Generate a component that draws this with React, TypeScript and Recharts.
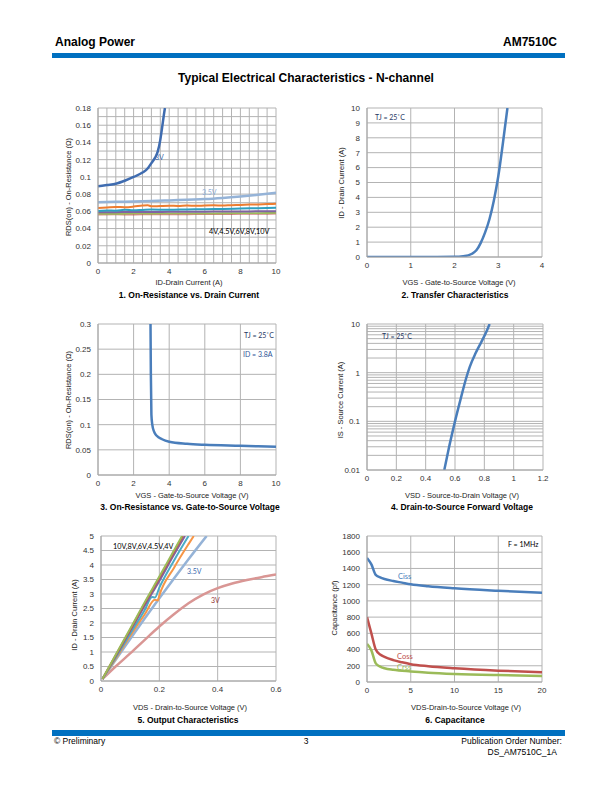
import React from "react";
import { LineChart, Line, XAxis, YAxis, CartesianGrid } from "recharts";

type Pt = [number, number];

const FONT = "'Liberation Sans', Arial, sans-serif";
const NOTE_FONT = "Lato, 'Open Sans', sans-serif";

// 1. On-Resistance vs. Drain Current
const c1XTicks = [0, 2, 4, 6, 8, 10];
const c1YTicks = [0, 0.02, 0.04, 0.06, 0.08, 0.1, 0.12, 0.14, 0.16, 0.18];
const rds3V: Pt[] = [[0, 0.089], [0.5, 0.0905], [1, 0.092], [1.5, 0.0955], [2, 0.1], [2.5, 0.105], [2.8, 0.11], [3, 0.116], [3.2, 0.122], [3.35, 0.129], [3.5, 0.143], [3.6, 0.157], [3.7, 0.172], [3.76, 0.18]];
const rds35V: Pt[] = [[0, 0.0705], [1, 0.071], [2, 0.0715], [3, 0.072], [4, 0.0727], [5, 0.0735], [6, 0.0742], [7, 0.0755], [8, 0.0772], [9, 0.0792], [10, 0.0815]];
const rds4V: Pt[] = [[0, 0.064], [0.5, 0.0645], [1, 0.065], [1.5, 0.0648], [2, 0.0655], [2.5, 0.0668], [2.8, 0.0672], [3, 0.0658], [3.5, 0.0662], [4, 0.0665], [4.5, 0.0662], [5, 0.0667], [5.5, 0.0664], [6, 0.0668], [6.5, 0.067], [7, 0.0667], [7.5, 0.0672], [8, 0.0674], [8.5, 0.0678], [9, 0.068], [9.5, 0.0684], [10, 0.0687]];
const rds45V: Pt[] = [[0, 0.0605], [0.5, 0.061], [1, 0.0608], [1.5, 0.0618], [2, 0.0612], [2.5, 0.0616], [3, 0.062], [4, 0.0618], [5, 0.0622], [6, 0.0625], [7, 0.0628], [8, 0.0632], [9, 0.0637], [10, 0.0642]];
const rds6V: Pt[] = [[0, 0.0588], [1, 0.059], [2, 0.0592], [3, 0.0591], [4, 0.0594], [5, 0.0595], [6, 0.0596], [7, 0.0598], [8, 0.0599], [9, 0.06], [10, 0.0602]];
const rds8V: Pt[] = [[0, 0.0574], [1, 0.0572], [2, 0.0576], [3, 0.0575], [4, 0.0576], [5, 0.0577], [6, 0.0577], [7, 0.0578], [8, 0.0579], [9, 0.058], [10, 0.0581]];
const rds10V: Pt[] = [[0, 0.0562], [1, 0.0564], [2, 0.0563], [3, 0.0565], [4, 0.0564], [5, 0.0566], [6, 0.0567], [7, 0.0568], [8, 0.057], [9, 0.0571], [10, 0.0573]];

// 2. Transfer Characteristics
const c2XTicks = [0, 1, 2, 3, 4];
const c2YTicks = [0, 1, 2, 3, 4, 5, 6, 7, 8, 9, 10];
const transfer: Pt[] = [[0, 0], [1, 0], [2, 0.01], [2.2, 0.05], [2.4, 0.22], [2.5, 0.45], [2.6, 0.95], [2.7, 1.65], [2.8, 2.55], [2.9, 3.8], [3.0, 5.4], [3.1, 7.5], [3.21, 10]];

// 3. On-Resistance vs. Gate-to-Source Voltage
const c3XTicks = [0, 2, 4, 6, 8, 10];
const c3YTicks = [0, 0.05, 0.1, 0.15, 0.2, 0.25, 0.3];
const rdsVgs: Pt[] = [[2.95, 0.3], [2.97, 0.2], [3.0, 0.12], [3.05, 0.1], [3.15, 0.086], [3.3, 0.078], [3.6, 0.071], [4, 0.066], [5, 0.062], [6, 0.06], [8, 0.058], [10, 0.056]];

// 4. Drain-to-Source Forward Voltage
const c4XTicks = [0, 0.2, 0.4, 0.6, 0.8, 1, 1.2];
const c4YTicks = [0.01, 0.1, 1, 10];
const diode: Pt[] = [[0.527, 0.01], [0.56, 0.03], [0.6, 0.1], [0.64, 0.3], [0.675, 0.75], [0.7, 1.3], [0.74, 2.5], [0.78, 4.3], [0.81, 6.5], [0.836, 10]];

// 5. Output Characteristics
const c5XTicks = [0, 0.2, 0.4, 0.6];
const c5YTicks = [0, 0.5, 1, 1.5, 2, 2.5, 3, 3.5, 4, 4.5, 5];
const out10V: Pt[] = [[0.005, 0.07], [0.05, 0.9], [0.1, 1.8], [0.15, 2.72], [0.2, 3.6], [0.25, 4.5], [0.278, 5]];
const out8V: Pt[] = [[0.005, 0.07], [0.05, 0.88], [0.1, 1.77], [0.15, 2.68], [0.2, 3.55], [0.25, 4.45], [0.281, 5]];
const out6V: Pt[] = [[0.005, 0.07], [0.05, 0.85], [0.1, 1.72], [0.15, 2.6], [0.2, 3.45], [0.25, 4.35], [0.288, 5]];
const out45V: Pt[] = [[0.005, 0.07], [0.05, 0.8], [0.1, 1.63], [0.15, 2.45], [0.175, 2.9], [0.185, 2.88], [0.2, 3.22], [0.25, 4.15], [0.3, 5]];
const out4V: Pt[] = [[0.005, 0.07], [0.05, 0.76], [0.1, 1.55], [0.15, 2.3], [0.185, 2.8], [0.195, 2.78], [0.2, 2.95], [0.25, 3.9], [0.3, 4.72], [0.318, 5]];
const out35V: Pt[] = [[0.005, 0.07], [0.1, 1.45], [0.2, 2.85], [0.3, 4.2], [0.362, 5]];
const out3V: Pt[] = [[0.005, 0.07], [0.05, 0.5], [0.1, 0.95], [0.15, 1.42], [0.2, 1.88], [0.25, 2.3], [0.3, 2.68], [0.35, 2.98], [0.4, 3.2], [0.45, 3.36], [0.5, 3.48], [0.55, 3.58], [0.6, 3.67]];

// 6. Capacitance
const c6XTicks = [0, 5, 10, 15, 20];
const c6YTicks = [0, 200, 400, 600, 800, 1000, 1200, 1400, 1600, 1800];
const ciss: Pt[] = [[0, 1530], [0.5, 1450], [1, 1320], [1.5, 1290], [2, 1270], [3, 1245], [4, 1225], [5, 1205], [7, 1180], [10, 1155], [15, 1125], [20, 1100]];
const coss: Pt[] = [[0, 800], [0.5, 600], [1, 400], [1.5, 340], [2, 310], [3, 270], [4, 243], [5, 220], [7, 195], [10, 170], [15, 140], [20, 120]];
const crss: Pt[] = [[0, 470], [0.5, 390], [1, 230], [1.5, 190], [2, 170], [3, 150], [5, 130], [7, 115], [10, 100], [15, 85], [20, 75]];

const rows = (pts: Pt[]) => pts.map(([x, y]) => ({ x, y }));
const steps = (from: number, to: number, step: number) => {
  const out: number[] = [];
  for (let v = from; v <= to + step / 1000; v += step) out.push(+v.toFixed(6));
  return out;
};
const logGrid = [0.01, 0.1, 1].flatMap((d) => [1, 2, 3, 4, 5, 6, 7, 8, 9].map((m) => +(m * d).toFixed(4))).concat([10]);

type Series = { pts: Pt[]; color: string; width?: number; opacity?: number };
type PanelCfg = {
  box: [number, number, number, number];
  xDomain: [number, number];
  yDomain: [number, number];
  xTicks: number[];
  yTicks: number[];
  xGrid: number[];
  yGrid: number[];
  logY?: boolean;
  series: Series[];
};

const ML = 45;
const MT = 6;
const MR = 12;
const XH = 18;
const tickStyle = { fontSize: 8, fill: "#333", fontFamily: FONT };

function Panel({ cfg }: { cfg: PanelCfg }) {
  const [x0, y0, x1, y1] = cfg.box;
  const w = x1 - x0 + ML + MR;
  const h = y1 - y0 + MT + XH;
  return (
    <div style={{ position: "absolute", left: x0 - ML, top: y0 - MT }}>
      <LineChart width={w} height={h} margin={{ top: MT, right: MR, bottom: 0, left: 0 }}>
        <CartesianGrid stroke="#b3b3b3" verticalValues={cfg.xGrid} horizontalValues={cfg.yGrid} />
        <XAxis
          dataKey="x"
          type="number"
          domain={cfg.xDomain}
          ticks={cfg.xTicks}
          interval={0}
          allowDataOverflow
          tickLine={false}
          tickSize={0}
          tickMargin={5}
          height={XH}
          stroke="#a6a6a6"
          tick={tickStyle}
        />
        <YAxis
          type="number"
          scale={cfg.logY ? "log" : "auto"}
          domain={cfg.yDomain}
          ticks={cfg.yTicks}
          interval={0}
          allowDataOverflow
          tickLine={false}
          tickSize={0}
          tickMargin={7}
          width={ML}
          stroke="#a6a6a6"
          tick={tickStyle}
        />
        {cfg.series.map((s, i) => (
          <Line
            key={i}
            data={rows(s.pts)}
            dataKey="y"
            type="monotone"
            stroke={s.color}
            strokeWidth={s.width ?? 2}
            strokeOpacity={s.opacity ?? 1}
            dot={false}
            isAnimationActive={false}
          />
        ))}
      </LineChart>
    </div>
  );
}

const panels: PanelCfg[] = [
  {
    box: [98, 108, 276, 263],
    xDomain: [0, 10], yDomain: [0, 0.18], xTicks: c1XTicks, yTicks: c1YTicks,
    xGrid: steps(0, 10, 0.5), yGrid: steps(0, 0.18, 0.01),
    series: [
      { pts: rds10V, color: "#C0504D", width: 1.8, opacity: 0.7 },
      { pts: rds8V, color: "#9BBB59", width: 1.8 },
      { pts: rds6V, color: "#8064A2", width: 2 },
      { pts: rds45V, color: "#2E9FC0", width: 2 },
      { pts: rds4V, color: "#ED7D31", width: 2 },
      { pts: rds35V, color: "#95B3D7", width: 2.5 },
      { pts: rds3V, color: "#3F6CB0", width: 2.5 },
    ],
  },
  {
    box: [367, 108, 542, 257],
    xDomain: [0, 4], yDomain: [0, 10], xTicks: c2XTicks, yTicks: c2YTicks,
    xGrid: steps(0, 4, 1), yGrid: steps(0, 10, 1),
    series: [{ pts: transfer, color: "#4A7EBB", width: 2.5 }],
  },
  {
    box: [98, 324, 276, 475],
    xDomain: [0, 10], yDomain: [0, 0.3], xTicks: c3XTicks, yTicks: c3YTicks,
    xGrid: steps(0, 10, 2), yGrid: steps(0, 0.3, 0.05),
    series: [{ pts: rdsVgs, color: "#4A7EBB", width: 2.5 }],
  },
  {
    box: [367, 324, 543, 470],
    xDomain: [0, 1.2], yDomain: [0.01, 10], xTicks: c4XTicks, yTicks: c4YTicks,
    xGrid: steps(0, 1.2, 0.2), yGrid: logGrid, logY: true,
    series: [{ pts: diode, color: "#4A7EBB", width: 2.5 }],
  },
  {
    box: [101, 536, 276, 681],
    xDomain: [0, 0.6], yDomain: [0, 5], xTicks: c5XTicks, yTicks: c5YTicks,
    xGrid: steps(0, 0.6, 0.2), yGrid: steps(0, 5, 0.5),
    series: [
      { pts: out3V, color: "#D99694", width: 2.5 },
      { pts: out35V, color: "#95B3D7", width: 2.5 },
      { pts: out4V, color: "#F79646", width: 2 },
      { pts: out45V, color: "#4BACC6", width: 2 },
      { pts: out6V, color: "#8064A2", width: 2 },
      { pts: out8V, color: "#C0504D", width: 2 },
      { pts: out10V, color: "#9BBB59", width: 2 },
    ],
  },
  {
    box: [367, 536, 542, 682],
    xDomain: [0, 20], yDomain: [0, 1800], xTicks: c6XTicks, yTicks: c6YTicks,
    xGrid: steps(0, 20, 5), yGrid: steps(0, 1800, 200),
    series: [
      { pts: crss, color: "#9BBB59", width: 2.5 },
      { pts: coss, color: "#C0504D", width: 2.5 },
      { pts: ciss, color: "#4A7EBB", width: 2.5 },
    ],
  },
];

type TxtProps = {
  x: number; y: number; children: React.ReactNode; size?: number; bold?: boolean;
  color?: string; align?: "left" | "center" | "right"; font?: string;
};
function Txt({ x, y, children, size = 7.5, bold, color = "#222", align = "left", font = FONT }: TxtProps) {
  const tx = align === "center" ? "-50%" : align === "right" ? "-100%" : "0";
  return (
    <div
      style={{
        position: "absolute", left: x, top: y, whiteSpace: "nowrap", fontFamily: font, fontSize: size,
        fontWeight: bold ? 700 : 400, color, lineHeight: 1, transform: `translate(${tx}, -50%)`,
      }}
    >
      {children}
    </div>
  );
}

function YTitle({ x, y, children }: { x: number; y: number; children: React.ReactNode }) {
  return (
    <div
      style={{
        position: "absolute", left: x, top: y, whiteSpace: "nowrap", fontFamily: FONT, fontSize: 7.5,
        color: "#222", lineHeight: 1, transform: "translate(-50%, -50%) rotate(-90deg)",
      }}
    >
      {children}
    </div>
  );
}

export default function App() {
  return (
    <div style={{ position: "absolute", left: 0, top: 0, width: 612, height: 792, background: "#fff", fontFamily: FONT }}>
      <Txt x={55} y={42} size={12} bold color="#000">Analog Power</Txt>
      <Txt x={557} y={42} size={12} bold color="#000" align="right">AM7510C</Txt>
      <div style={{ position: "absolute", left: 52, top: 53, width: 513, height: 4.5, background: "#0070C0" }} />
      <Txt x={306} y={78} size={12} bold color="#000" align="center">Typical Electrical Characteristics - N-channel</Txt>

      {panels.map((p, i) => <Panel key={i} cfg={p} />)}

      {/* chart 1 */}
      <YTitle x={69} y={187}>RDS(on) - On-Resistance (Ω)</YTitle>
      <Txt x={189} y={283} align="center">ID-Drain Current (A)</Txt>
      <Txt x={189} y={295} size={8.5} bold align="center" color="#000">1. On-Resistance vs. Drain Current</Txt>
      <Txt x={155} y={157} size={7} color="#3F6CB0" font={NOTE_FONT}>3V</Txt>
      <Txt x={202} y={192} size={7} color="#8EADD8" font={NOTE_FONT}>3.5V</Txt>
      <Txt x={209} y={232} size={7.3} color="#000" font={NOTE_FONT}>4V,4.5V,6V,8V,10V</Txt>

      {/* chart 2 */}
      <YTitle x={342} y={183}>ID - Drain Current (A)</YTitle>
      <Txt x={459} y={283} align="center">VGS - Gate-to-Source Voltage (V)</Txt>
      <Txt x={455} y={295} size={8.5} bold align="center" color="#000">2. Transfer Characteristics</Txt>
      <Txt x={375} y={117} size={7} color="#1F3864" font={NOTE_FONT}>TJ = 25˚C</Txt>

      {/* chart 3 */}
      <YTitle x={69} y={400}>RDS(on) - On-Resistance (Ω)</YTitle>
      <Txt x={192} y={496} align="center">VGS - Gate-to-Source Voltage (V)</Txt>
      <Txt x={190} y={507} size={8.5} bold align="center" color="#000">3. On-Resistance vs. Gate-to-Source Voltage</Txt>
      <Txt x={244} y={335} size={7} color="#1F3864" font={NOTE_FONT}>TJ = 25˚C</Txt>
      <Txt x={243} y={354} size={7} color="#2F5597" font={NOTE_FONT}>ID = 3.8A</Txt>

      {/* chart 4 */}
      <YTitle x={341} y={400}>IS - Source Current (A)</YTitle>
      <Txt x={462} y={496} align="center">VSD - Source-to-Drain Voltage (V)</Txt>
      <Txt x={462} y={507} size={8.5} bold align="center" color="#000">4. Drain-to-Source Forward Voltage</Txt>
      <Txt x={382} y={336} size={7} color="#1F3864" font={NOTE_FONT}>TJ = 25˚C</Txt>

      {/* chart 5 */}
      <YTitle x={75} y={615}>ID - Drain Current (A)</YTitle>
      <Txt x={190} y={708} align="center">VDS - Drain-to-Source Voltage (V)</Txt>
      <Txt x={188} y={720} size={8.5} bold align="center" color="#000">5. Output Characteristics</Txt>
      <Txt x={113} y={547} size={7.3} color="#000" font={NOTE_FONT}>10V,8V,6V,4.5V,4V</Txt>
      <Txt x={187} y={571} size={7} color="#3F6CB0" font={NOTE_FONT}>3.5V</Txt>
      <Txt x={211} y={600} size={7} color="#953735" font={NOTE_FONT}>3V</Txt>

      {/* chart 6 */}
      <YTitle x={335} y={608}>Capacitance (pf)</YTitle>
      <Txt x={466} y={708} align="center">VDS-Drain-to-Source Voltage (V)</Txt>
      <Txt x={455} y={720} size={8.5} bold align="center" color="#000">6. Capacitance</Txt>
      <Txt x={508} y={544} size={7} color="#000" font={NOTE_FONT}>F = 1MHz</Txt>
      <Txt x={398} y={577} size={7.5} color="#4A7EBB" font={NOTE_FONT}>Ciss</Txt>
      <Txt x={397} y={657} size={7.5} color="#C0504D" font={NOTE_FONT}>Coss</Txt>
      <Txt x={397} y={668} size={7.5} color="#9BBB59" font={NOTE_FONT}>Crss</Txt>

      <div style={{ position: "absolute", left: 52, top: 730, width: 513, height: 5.5, background: "#0070C0" }} />
      <Txt x={54} y={741} size={8.5} color="#000">© Preliminary</Txt>
      <Txt x={306} y={741} size={8.5} color="#000" align="center">3</Txt>
      <Txt x={562} y={741} size={8.5} color="#000" align="right">Publication Order Number:</Txt>
      <Txt x={557} y={752} size={8.5} color="#000" align="right">DS_AM7510C_1A</Txt>
    </div>
  );
}
